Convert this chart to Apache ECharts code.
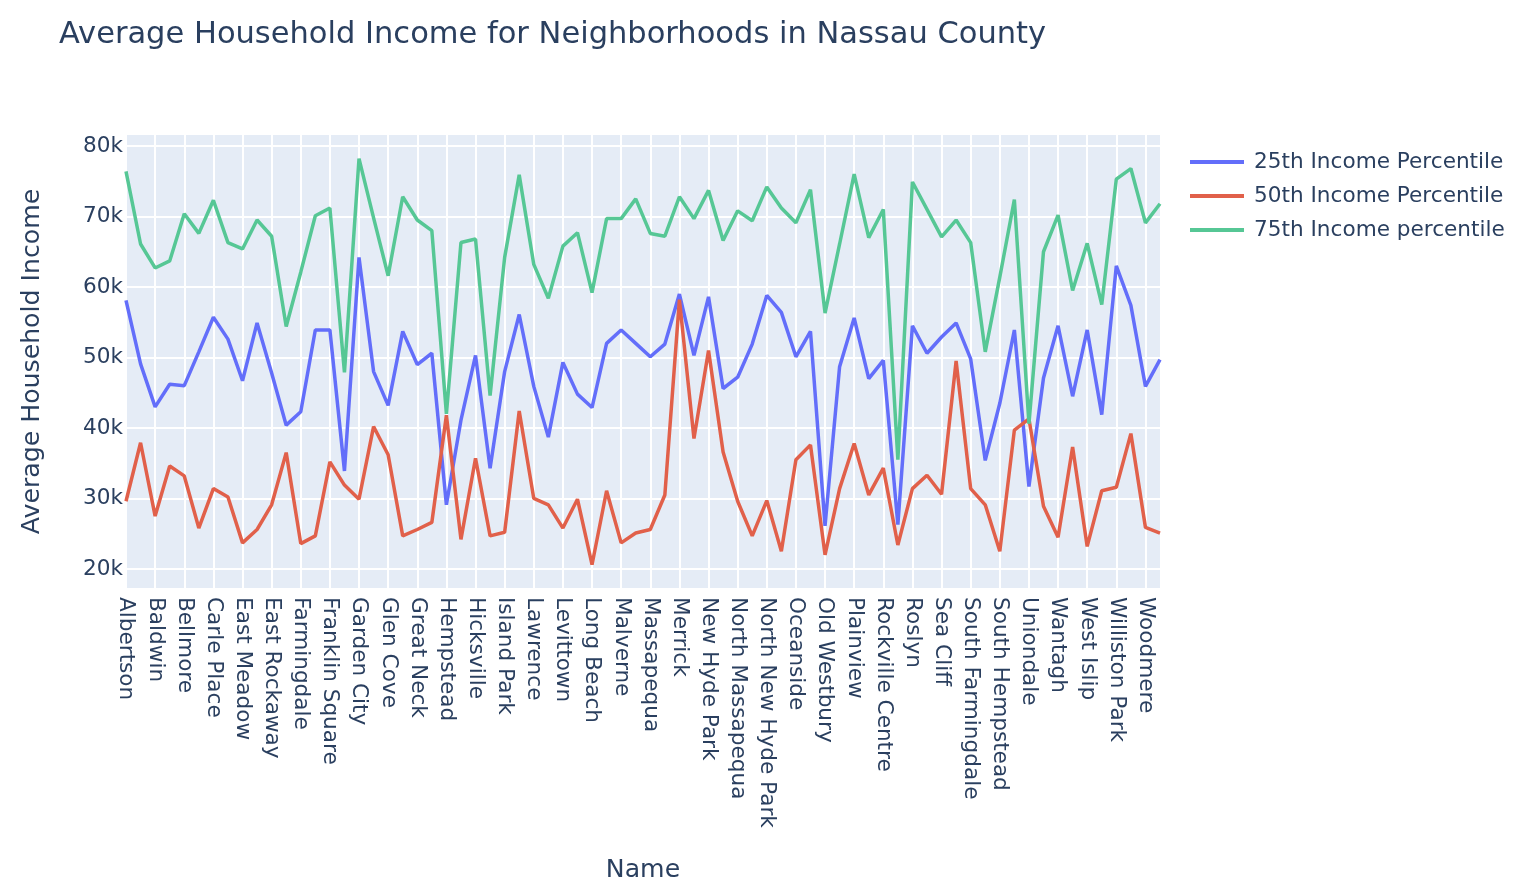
<!DOCTYPE html>
<html>
<head>
<meta charset="utf-8">
<script src="https://cdn.jsdelivr.net/npm/echarts@6/dist/echarts.min.js"></script>
<style>html,body{margin:0;padding:0;background:#fff}#c{width:1540px;height:894px}</style>
</head>
<body>
<div id="c"></div>
<script>
const names = ["Albertson","Atlantic Beach","Baldwin","Bayville","Bellmore","Bethpage","Carle Place","Cedarhurst","East Meadow","East Norwich","East Rockaway","Elmont","Farmingdale","Floral Park","Franklin Square","Freeport","Garden City","Garden City Park","Glen Cove","Glen Head","Great Neck","Greenvale","Hempstead","Hewlett","Hicksville","Inwood","Island Park","Jericho","Lawrence","Lawrence Park","Levittown","Locust Valley","Long Beach","Lynbrook","Malverne","Manhasset","Massapequa","Massapequa Park","Merrick","Mineola","New Hyde Park","North Bellmore","North Massapequa","North Merrick","North New Hyde Park","North Valley Stream","Oceanside","Old Bethpage","Old Westbury","Oyster Bay","Plainview","Port Washington","Rockville Centre","Roosevelt","Roslyn","Roslyn Heights","Sea Cliff","Seaford","South Farmingdale","South Floral Park","South Hempstead","Syosset","Uniondale","Valley Stream","Wantagh","West Hempstead","West Islip","Westbury","Williston Park","Woodbury","Woodmere","Woodsburgh"];

const p25 = [58100,49100,43000,46200,46000,50800,55700,52600,46700,54900,47800,40400,42300,53900,53900,33900,64200,48000,43200,53700,49000,50600,29100,41100,50300,34300,48000,56100,45900,38700,49300,44800,42900,52000,53900,52000,50100,51900,59000,50300,58600,45600,47200,51900,58800,56400,50100,53700,26100,48700,55600,47000,49600,26300,54500,50600,52900,54900,49800,35400,43500,53900,31700,47100,54500,44500,53900,41900,63000,57400,45900,49700];

const p50 = [29600,37900,27500,34600,33200,25800,31400,30200,23700,25600,29100,36500,23600,24700,35200,31900,29900,40200,36200,24700,25600,26600,41800,24200,35700,24700,25200,42400,30000,29100,25800,29900,20600,31100,23700,25100,25600,30500,58200,38500,51000,36600,29600,24700,29700,22500,35500,37600,22000,31400,37800,30500,34300,23400,31400,33300,30600,49500,31400,29100,22500,39700,41300,28900,24500,37300,23200,31100,31600,39200,25900,25100];

const p75 = [76400,66100,62700,63700,70400,67600,72300,66300,65400,69500,67200,54400,62100,70100,71200,47900,78200,69800,61600,72800,69500,68000,42000,66300,66800,44600,64200,75900,63200,58400,65800,67700,59200,69700,69700,72500,67600,67200,72800,69700,73700,66600,70800,69400,74200,71200,69100,73800,56300,66100,76000,67000,71000,35500,74900,71000,67100,69500,66300,50800,61400,72400,40600,65000,70200,59500,66200,57500,75300,76800,69100,71800];

const yTicks = [20000,30000,40000,50000,60000,70000,80000];
const seriesNames = ["25th Income Percentile","50th Income Percentile","75th Income percentile"];
const colors = ["#636efa","#e1604a","#56c795"];

const FONT = "DejaVu Sans, Verdana, sans-serif";
const TXT = "#2a3f5f";

const chart = echarts.init(document.getElementById('c'), null, {renderer:'canvas'});
chart.setOption({
  backgroundColor: '#fff',
  animation: false,
  color: colors,
  title: {
    text: "Average Household Income for Neighborhoods in Nassau County",
    left: 59, top: 20, padding: 0,
    textStyle: {fontFamily: FONT, fontSize: 30.5, fontWeight: 'normal', color: TXT}
  },
  legend: {
    orient: 'vertical', left: 1190, top: 150, padding: 0,
    itemWidth: 54, itemHeight: 4, itemGap: 10, icon: 'rect',
    textStyle: {fontFamily: FONT, fontSize: 21.6, color: TXT, lineHeight: 24, padding: [0,0,0,5]},
    data: seriesNames
  },
  grid: {left: 126, right: 380, top: 135, bottom: 306, show: true, backgroundColor: '#E5ECF6', borderWidth: 0, containLabel: false, outerBoundsMode: 'none'},
  xAxis: {
    type: 'category', data: names, boundaryGap: false,
    axisLine: {show: false}, axisTick: {show: false},
    axisLabel: {interval: 1, rotate: -90, margin: 9, fontFamily: FONT, fontSize: 21.6, color: TXT},
    splitLine: {show: true, interval: 1, lineStyle: {color: '#fff', width: 2}},
    name: 'Name', nameLocation: 'middle', nameGap: 270,
    nameTextStyle: {fontFamily: FONT, fontSize: 25.2, color: TXT}
  },
  yAxis: {
    type: 'value', min: 17300, max: 81560,
    axisLine: {show: false},
    axisTick: {show: false, customValues: yTicks},
    axisLabel: {customValues: yTicks, margin: 3, fontFamily: FONT, fontSize: 21.6, color: TXT,
      formatter: v => (v/1000) + 'k'},
    splitLine: {show: true, lineStyle: {color: '#fff', width: 2}},
    name: 'Average Household Income', nameLocation: 'middle', nameGap: 81, nameRotate: 90,
    nameTextStyle: {fontFamily: FONT, fontSize: 25.2, color: TXT}
  },
  series: [
    {name: seriesNames[0], type: 'line', data: p25, showSymbol: false, lineStyle: {width: 3.5}},
    {name: seriesNames[1], type: 'line', data: p50, showSymbol: false, lineStyle: {width: 3.5}},
    {name: seriesNames[2], type: 'line', data: p75, showSymbol: false, lineStyle: {width: 3.5}}
  ]
});
</script>
</body>
</html>
